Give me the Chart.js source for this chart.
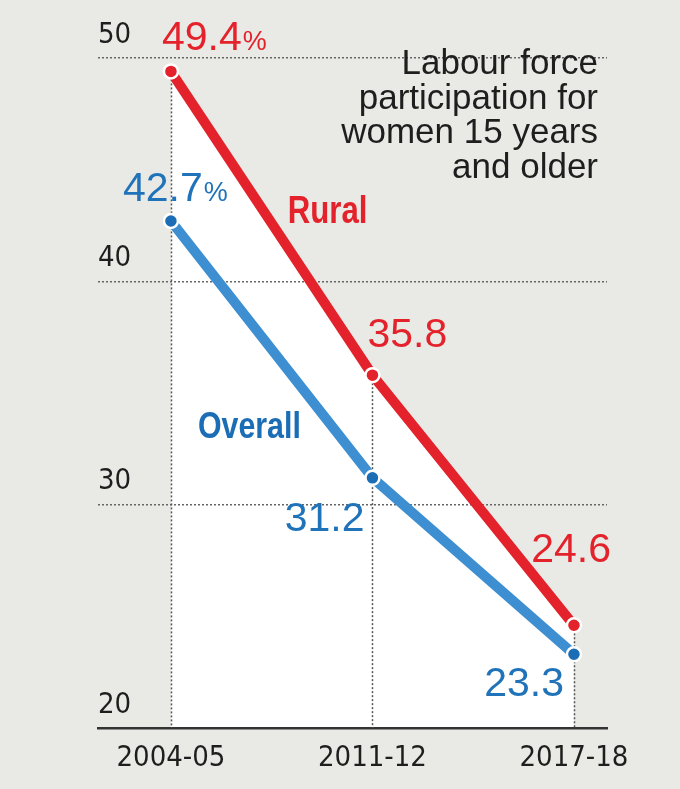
<!DOCTYPE html>
<html>
<head>
<meta charset="utf-8">
<script src="https://cdn.jsdelivr.net/npm/chart.js@4/dist/chart.umd.min.js"></script>
<style>
  html, body { margin: 0; padding: 0; background: #e9e9e5; }
  canvas { display: block; }
</style>
</head>
<body>
<canvas id="lfpChart" width="680" height="789"></canvas>
<script>
// Datos del gráfico
var categories = ['2004-05', '2011-12', '2017-18'];
var ruralValues = [49.4, 35.8, 24.6];
var overallValues = [42.7, 31.2, 23.3];
var yTickValues = [20, 30, 40, 50];
var seriesNames = ['Rural', 'Overall'];
var titleLines = ['Labour force', 'participation for', 'women 15 years', 'and older'];

// Colores y fuentes
var RED = '#e3222b';
var BLUE_LINE = '#3d8fd1';
var BLUE_DOT = '#1b6db5';
var BLUE_TEXT = '#2173b9';
var DARK = '#1e1e1e';
var COND = "'DejaVu Sans Condensed', 'Liberation Sans Narrow', sans-serif";
var SANS = "'Liberation Sans', Arial, sans-serif";

// Posición de las etiquetas respecto a cada punto (solo estilo)
var ruralLabelPos = [
    { dx: -9, dy: -21, align: 'left' },
    { dx: -5, dy: -28, align: 'left' },
    { dx: 37, dy: -63, align: 'right' }
];
var overallLabelPos = [
    { dx: -48, dy: -20, align: 'left' },
    { dx: -8, dy: 53, align: 'right' },
    { dx: -10, dy: 42, align: 'right' }
];

function toPoints(values) {
    return values.map(function (v, i) { return { x: i, y: v }; });
}

// Líneas verticales punteadas desde el punto más alto hasta el eje
var dropLines = {
    id: 'dropLines',
    beforeDatasetsDraw: function (chart) {
        var ctx = chart.ctx, xs = chart.scales.x, ys = chart.scales.y;
        ctx.save();
        ctx.strokeStyle = '#555';
        ctx.lineWidth = 1.5;
        ctx.setLineDash([2, 2]);
        categories.forEach(function (c, i) {
            var top = Math.max(ruralValues[i], overallValues[i]);
            var x = Math.round(xs.getPixelForValue(i)) + 0.5;
            ctx.beginPath();
            ctx.moveTo(x, ys.getPixelForValue(top));
            ctx.lineTo(x, chart.chartArea.bottom);
            ctx.stroke();
        });
        ctx.restore();
    }
};

// Texto estrecho: Liberation Sans comprimido en horizontal
function narrowText(ctx, txt, x, y, font, color, squeeze) {
    ctx.save();
    ctx.font = font;
    ctx.fillStyle = color;
    ctx.textAlign = 'left';
    ctx.translate(x, y);
    ctx.scale(squeeze, 1);
    ctx.fillText(txt, 0, 0);
    ctx.restore();
}

// Etiquetas de valores, nombres de series y título
var textLayer = {
    id: 'textLayer',
    afterDatasetsDraw: function (chart) {
        var ctx = chart.ctx, xs = chart.scales.x, ys = chart.scales.y;
        ctx.save();
        ctx.textBaseline = 'alphabetic';

        function valueLabel(values, pos, color) {
            values.forEach(function (v, i) {
                var px = xs.getPixelForValue(i) + pos[i].dx;
                var py = ys.getPixelForValue(v) + pos[i].dy;
                var txt = v.toFixed(1);
                var pct = i === 0 ? '%' : '';
                ctx.fillStyle = color;
                ctx.font = '41px ' + SANS;
                var w1 = ctx.measureText(txt).width;
                ctx.font = '27px ' + SANS;
                var w2 = pct ? ctx.measureText(pct).width + 1 : 0;
                var left = pos[i].align === 'left' ? px : px - w1 - w2;
                ctx.textAlign = 'left';
                ctx.font = '41px ' + SANS;
                ctx.fillText(txt, left, py);
                if (pct) {
                    ctx.font = '27px ' + SANS;
                    ctx.fillText(pct, left + w1 + 1, py);
                }
            });
        }
        valueLabel(ruralValues, ruralLabelPos, RED);
        valueLabel(overallValues, overallLabelPos, BLUE_TEXT);

        narrowText(ctx, seriesNames[0], xs.getPixelForValue(0.58), ys.getPixelForValue(42.6),
            'bold 38px ' + SANS, RED, 0.82);
        narrowText(ctx, seriesNames[1], xs.getPixelForValue(0.134), ys.getPixelForValue(33.0),
            'bold 37px ' + SANS, BLUE_DOT, 0.82);

        ctx.textAlign = 'right';
        ctx.font = '35px ' + SANS;
        ctx.fillStyle = DARK;
        titleLines.forEach(function (line, i) {
            ctx.fillText(line, 598, 74 + i * 34.5);
        });
        ctx.restore();
    }
};

var ctx = document.getElementById('lfpChart').getContext('2d');

var lfpChart = new Chart(ctx, {
    type: 'line',
    data: {
        datasets: [{
            label: seriesNames[0],
            data: toPoints(ruralValues),
            borderColor: RED,
            borderWidth: 10,
            backgroundColor: '#ffffff',
            fill: 'start',
            pointRadius: 7,
            pointBorderWidth: 2.5,
            pointBackgroundColor: RED,
            pointBorderColor: '#ffffff',
            tension: 0
        }, {
            label: seriesNames[1],
            data: toPoints(overallValues),
            borderColor: BLUE_LINE,
            borderWidth: 10,
            fill: false,
            pointRadius: 7,
            pointBorderWidth: 2.5,
            pointBackgroundColor: BLUE_DOT,
            pointBorderColor: '#ffffff',
            tension: 0
        }]
    },
    options: {
        responsive: false,
        animation: false,
        events: [],
        layout: { padding: { left: 98, right: 73, top: 58, bottom: 0 } },
        plugins: {
            legend: { display: false },
            tooltip: { enabled: false },
            filler: { drawTime: 'beforeDraw' }
        },
        scales: {
            x: {
                type: 'linear',
                min: -0.362,
                max: 2.164,
                afterBuildTicks: function (axis) {
                    axis.ticks = categories.map(function (c, i) { return { value: i }; });
                },
                ticks: {
                    callback: function (v) { return categories[v]; },
                    font: { family: COND, size: 29, lineHeight: 1 },
                    color: DARK,
                    padding: 16,
                    maxRotation: 0,
                    autoSkip: false
                },
                grid: { display: false, drawTicks: false },
                border: { display: true, color: '#333', width: 2.5 }
            },
            y: {
                min: yTickValues[0],
                max: yTickValues[yTickValues.length - 1],
                afterBuildTicks: function (axis) {
                    axis.ticks = yTickValues.map(function (v) { return { value: v }; });
                },
                ticks: {
                    mirror: true,
                    padding: 0,
                    labelOffset: -23,
                    font: { family: COND, size: 29, lineHeight: 0.2 },
                    color: DARK
                },
                grid: {
                    drawTicks: false,
                    color: function (c) { return c.tick && c.tick.value === yTickValues[0] ? 'rgba(0,0,0,0)' : '#666'; },
                    lineWidth: 1.5
                },
                border: { display: false, dash: [2, 2] }
            }
        }
    },
    plugins: [dropLines, textLayer]
});
</script>
</body>
</html>
